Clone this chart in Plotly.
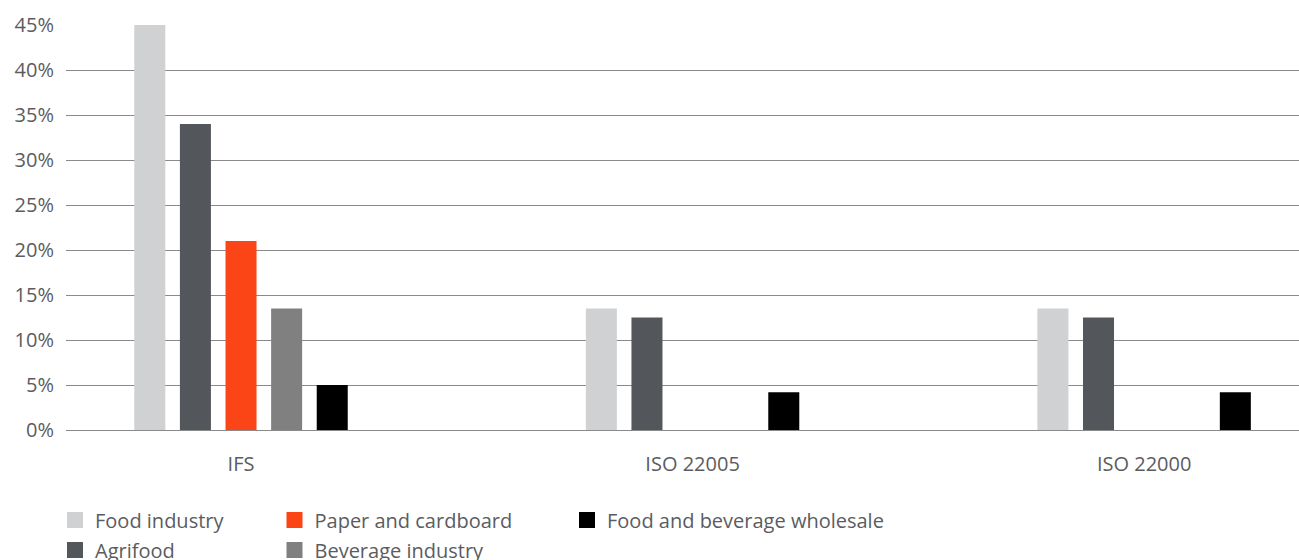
import plotly.graph_objects as go

categories = ["IFS", "ISO 22005", "ISO 22000"]
series_names = ["Food industry", "Agrifood", "Paper and cardboard", "Beverage industry", "Food and beverage wholesale"]
food_industry = [45, 13.5, 13.5]
agrifood = [34, 12.5, 12.5]
paper_cardboard = [21, 0, 0]
beverage_industry = [13.5, 0, 0]
food_bev_wholesale = [5, 4.2, 4.2]
y_tickvals = [0, 5, 10, 15, 20, 25, 30, 35, 40, 45]
y_ticktext = ["0%", "5%", "10%", "15%", "20%", "25%", "30%", "35%", "40%", "45%"]

colors = ["#D0D1D3", "#53565A", "#FC4517", "#808080", "#000000"]
values = [food_industry, agrifood, paper_cardboard, beverage_industry, food_bev_wholesale]
legend_ids = ["legend", "legend", "legend2", "legend2", "legend3"]

FONT = "Open Sans"
TXT = "#5b5c5f"

W, H = 1299, 560

fig = go.Figure()
for name, vals, col in zip(series_names, values, colors):
    fig.add_trace(go.Bar(
        x=categories, y=vals, name=name, marker_color=col,
        marker_line_width=0, showlegend=False, legendgroup=name,
        hoverinfo="x+y+name",
    ))
# legend entries (square swatches)
for name, col, lg in zip(series_names, colors, legend_ids):
    fig.add_trace(go.Scatter(
        x=[None], y=[None], mode="markers", name=name, legendgroup=name,
        marker=dict(symbol="square", size=16, color=col), legend=lg,
        showlegend=True,
    ))

legend_common = dict(
    orientation="v", xref="container", yref="container",
    xanchor="left", yanchor="top", y=1 - 500.5 / H,
    font=dict(family=FONT, size=20, color=TXT),
    bgcolor="rgba(0,0,0,0)", tracegroupgap=1, itemclick=False,
)

fig.update_layout(
    width=W, height=H,
    margin=dict(l=66, r=0, t=24.5, b=129.5, autoexpand=False),
    paper_bgcolor="white", plot_bgcolor="white",
    barmode="group", bargap=0.495, bargroupgap=0.32,
    font=dict(family=FONT, size=20, color=TXT),
    legend=dict(legend_common, x=55 / W),
    legend2=dict(legend_common, x=274.5 / W),
    legend3=dict(legend_common, x=567 / W),
    xaxis=dict(
        type="category", range=[-0.3876, 2.343], showgrid=False,
        zeroline=False, showline=False, ticks="",
        ticklabelstandoff=20,
        tickfont=dict(family=FONT, size=20, color=TXT),
    ),
    yaxis=dict(
        range=[0, 45], tickvals=y_tickvals, ticktext=y_ticktext,
        showgrid=True, gridcolor="#8a8a8a", gridwidth=1.3,
        zeroline=True, zerolinecolor="#8a8a8a", zerolinewidth=1.3,
        showline=False, ticks="", ticklabelstandoff=11,
        tickfont=dict(family=FONT, size=20, color=TXT),
    ),
)

fig.write_html(
    "out.html",
    config={"displayModeBar": False},
    post_script="document.body.style.margin='0';document.body.style.overflow='hidden';",
)
